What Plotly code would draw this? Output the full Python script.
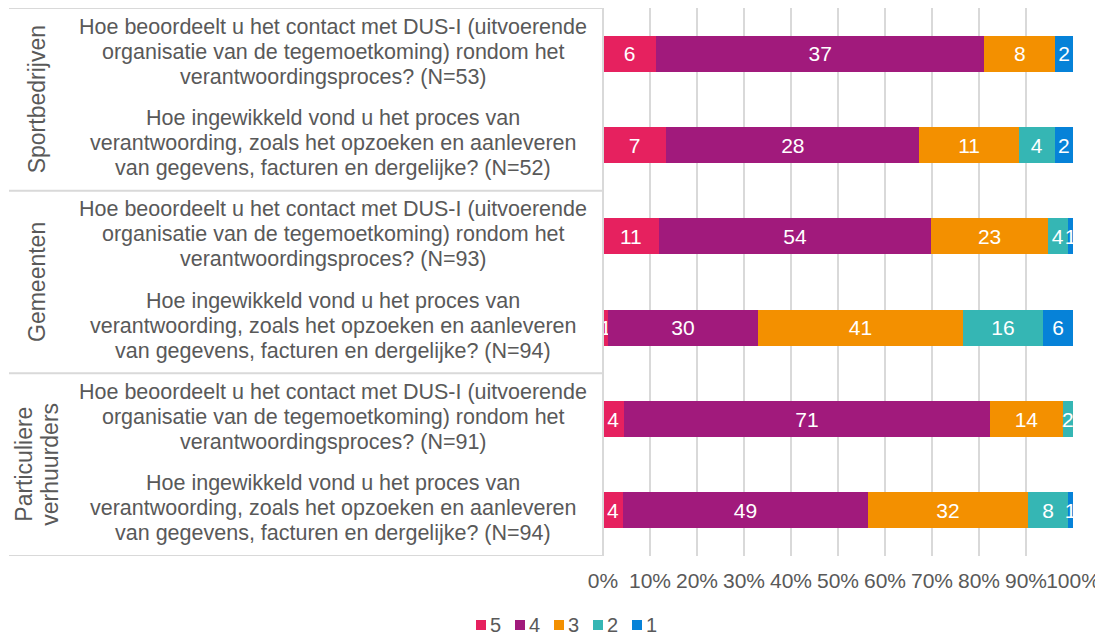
import plotly.graph_objects as go

groups = [["Sportbedrijven"], ["Gemeenten"], ["Particuliere", "verhuurders"]]
q_contact = ["Hoe beoordeelt u het contact met DUS-I (uitvoerende",
             "organisatie van de tegemoetkoming) rondom het",
             "verantwoordingsproces? (N={})"]
q_proces = ["Hoe ingewikkeld vond u het proces van",
            "verantwoording, zoals het opzoeken en aanleveren",
            "van gegevens, facturen en dergelijke? (N={})"]
n_values = [53, 52, 93, 94, 91, 94]
questions = [q_contact, q_proces, q_contact, q_proces, q_contact, q_proces]

series_names = ["5", "4", "3", "2", "1"]
values_5 = [6, 7, 11, 1, 4, 4]
values_4 = [37, 28, 54, 30, 71, 49]
values_3 = [8, 11, 23, 41, 14, 32]
values_2 = [0, 4, 4, 16, 2, 8]
values_1 = [2, 2, 1, 6, 0, 1]
series_values = [values_5, values_4, values_3, values_2, values_1]
colors = ["#E6215F", "#A11A7C", "#F39000", "#35B6B4", "#0682D8"]

x_ticks = list(range(0, 101, 10))
x_ticklabels = [f"{t}%" for t in x_ticks]

rows = list(range(len(n_values)))
label_color = "#595959"
font_family = "Liberation Sans, Arial, sans-serif"

# plot-area geometry in page pixels (page body adds an 8px offset)
PL, PW, PT, PH = 603, 470, 8, 548
def px_x(p):
    return (p - PL) / PW
def px_y(p):
    return (PT + PH - p) / PH

fig = go.Figure()
for name, vals, col in zip(series_names, series_values, colors):
    fig.add_trace(go.Bar(
        y=rows, x=vals, name=name, orientation="h",
        marker=dict(color=col, line=dict(width=0)),
        text=[str(v) if v > 0 else "" for v in vals],
        textposition="inside", insidetextanchor="middle", textangle=0,
        textfont=dict(color="white", size=21, family=font_family),
        showlegend=False,
    ))

annotations = []
shapes = []
line_step = 25
for r, q, n in zip(rows, questions, n_values):
    nl = len(q)
    for i, line in enumerate(q):
        annotations.append(dict(
            x=px_x(333), xref="paper", y=r, yref="y", text=line.format(n),
            yshift=((nl - 1) / 2 - i) * line_step + 2,
            showarrow=False, xanchor="center", yanchor="middle", align="center",
            font=dict(size=21.5, color=label_color, family=font_family),
        ))
for gi, g in enumerate(groups):
    nl = len(g)
    for i, line in enumerate(g):
        annotations.append(dict(
            x=px_x(37), xref="paper", y=gi * 2 + 0.5, yref="y", text=line,
            xshift=(i - (nl - 1) / 2) * 26,
            showarrow=False, xanchor="center", yanchor="middle", align="center",
            textangle=-90,
            font=dict(size=23, color=label_color, family=font_family),
        ))

# legend (square swatch + label) below the axis
leg_step = 39
leg_cy = 625
for i, (name, col) in enumerate(zip(series_names, colors)):
    sx = 476 + i * leg_step
    shapes.append(dict(type="rect", xref="paper", yref="paper",
                       x0=px_x(sx), x1=px_x(sx + 10), y0=px_y(leg_cy + 5), y1=px_y(leg_cy - 5),
                       fillcolor=col, line=dict(width=0)))
    annotations.append(dict(
        x=px_x(sx + 13), xref="paper", y=px_y(leg_cy), yref="paper", text=name,
        showarrow=False, xanchor="left", yanchor="middle", borderpad=0,
        font=dict(size=20, color=label_color, family=font_family),
    ))

line_col = "#D9D9D9"
for yb in [-0.5, 1.5, 3.5, 5.5]:
    shapes.append(dict(type="line", xref="paper", yref="y", x0=px_x(9), x1=0,
                       y0=yb, y1=yb, line=dict(color=line_col, width=2)))
shapes.append(dict(type="line", xref="paper", yref="y", x0=0, x1=0,
                   y0=-0.5, y1=5.5, line=dict(color=line_col, width=2)))

fig.update_layout(
    barmode="stack", barnorm="percent", bargap=0.607,
    width=1095, height=631,
    margin=dict(l=595, r=30, t=0, b=83, autoexpand=False),
    paper_bgcolor="white", plot_bgcolor="white",
    font=dict(family=font_family, size=21, color=label_color),
    uniformtext=dict(minsize=21, mode="show"),
    showlegend=False,
    annotations=annotations, shapes=shapes,
    xaxis=dict(range=[0, 100], tickvals=x_ticks, ticktext=x_ticklabels, tickangle=0,
               showgrid=True, gridcolor=line_col, gridwidth=1.5, zeroline=False,
               showline=False, ticks="", ticklabelstandoff=10, automargin=False,
               tickfont=dict(size=21, color=label_color)),
    yaxis=dict(range=[5.5, -0.5], showticklabels=False, showgrid=False,
               zeroline=False, showline=False, ticks="", automargin=False),
)

fig.write_html("out.html")
